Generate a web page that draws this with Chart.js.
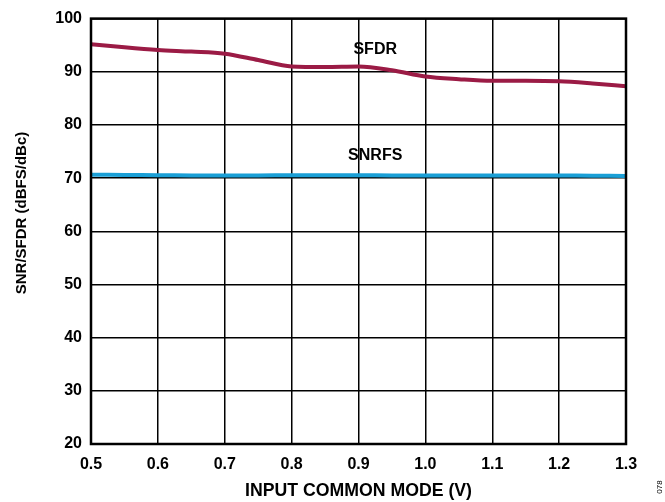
<!DOCTYPE html>
<html>
<head>
<meta charset="utf-8">
<script src="https://cdn.jsdelivr.net/npm/chart.js@4/dist/chart.umd.min.js"></script>
<style>
html,body{margin:0;padding:0;background:#fff;}
#wrap{width:665px;height:502px;position:relative;}
</style>
</head>
<body>
<div id="wrap"><canvas id="c" width="665" height="502"></canvas></div>
<script>
const xValues = [0.5,0.55,0.6,0.65,0.7,0.75,0.8,0.85,0.9,0.95,1.0,1.05,1.1,1.15,1.2,1.25,1.3];
const sfdr    = [95.2,94.6,94.1,93.8,93.4,92.2,91.0,90.9,91.0,90.3,89.1,88.6,88.3,88.3,88.2,87.8,87.3];
const snrfs   = [70.65,70.6,70.55,70.5,70.5,70.5,70.55,70.55,70.55,70.5,70.5,70.5,70.5,70.5,70.5,70.45,70.4];
const xTicks  = [0.5,0.6,0.7,0.8,0.9,1.0,1.1,1.2,1.3];
const yTicks  = [20,30,40,50,60,70,80,90,100];
const seriesLabels = [{text:'SFDR', x:0.925, y:94.2},{text:'SNRFS', x:0.925, y:74.2}];
const yTitle = 'SNR/SFDR (dBFS/dBc)';
const xTitle = 'INPUT COMMON MODE (V)';

const FONT = '"Liberation Sans", Arial, sans-serif';

const annot = {
  id:'annot',
  afterDraw(chart){
    const {ctx, scales:{x,y}} = chart;
    ctx.save();
    ctx.fillStyle = '#000';
    ctx.font = 'bold 16px ' + FONT;
    ctx.textAlign = 'center';
    ctx.textBaseline = 'middle';
    seriesLabels.forEach(l => ctx.fillText(l.text, x.getPixelForValue(l.x), y.getPixelForValue(l.y)));
    ctx.restore();
    // y axis title
    ctx.save();
    ctx.translate(22, 213);
    ctx.rotate(-Math.PI/2);
    ctx.font = 'bold 15px ' + FONT;
    ctx.fillStyle = '#000';
    ctx.textAlign = 'center';
    ctx.textBaseline = 'middle';
    ctx.fillText(yTitle, 0, 0);
    ctx.restore();
    // figure id
    ctx.save();
    ctx.translate(660, 487);
    ctx.rotate(-Math.PI/2);
    ctx.font = '8px ' + FONT;
    ctx.fillStyle = '#000';
    ctx.textAlign = 'center';
    ctx.textBaseline = 'middle';
    ctx.fillText('078', 0, 0);
    ctx.restore();
  }
};

const frame = {
  id:'frame',
  afterDraw(chart){
    const {ctx, chartArea:a} = chart;
    ctx.save();
    ctx.strokeStyle = '#000';
    ctx.lineWidth = 2.5;
    ctx.strokeRect(a.left, a.top, a.right-a.left, a.bottom-a.top);
    ctx.restore();
  }
};

new Chart(document.getElementById('c'), {
  type:'line',
  data:{
    datasets:[
      {label:'SFDR', data:xValues.map((v,i)=>({x:v,y:sfdr[i]})), borderColor:'#9b1b45', borderWidth:4, pointRadius:0, tension:0.4, cubicInterpolationMode:'monotone', fill:false},
      {label:'SNRFS', data:xValues.map((v,i)=>({x:v,y:snrfs[i]})), borderColor:'#1a9fd6', borderWidth:4, pointRadius:0, tension:0.4, fill:false}
    ]
  },
  options:{
    responsive:false,
    animation:false,
    devicePixelRatio:1,
    layout:{padding:{top:17,right:39,left:0,bottom:0}},
    plugins:{legend:{display:false},tooltip:{enabled:false}},
    scales:{
      x:{
        type:'linear', min:0.5, max:1.3,
        afterBuildTicks(s){ s.ticks = xTicks.map(v=>({value:v})); },
        afterFit(s){ s.height = 58; },
        grid:{color:'#000', lineWidth:1.5, drawTicks:false},
        border:{display:false},
        ticks:{color:'#000', font:{family:FONT, size:16, weight:'bold'}, padding:11, maxRotation:0, autoSkip:false,
          callback:(v)=>Number(v).toFixed(1)},
        title:{display:true, text:xTitle, color:'#000', font:{family:FONT, size:17.7, weight:'bold'}, padding:{top:8,bottom:0}}
      },
      y:{
        min:20, max:100,
        afterBuildTicks(s){ s.ticks = yTicks.map(v=>({value:v})); },
        afterFit(s){ s.width = 91; },
        grid:{color:'#000', lineWidth:1.5, drawTicks:false},
        border:{display:false},
        ticks:{color:'#000', font:{family:FONT, size:16, weight:'bold'}, padding:9},
        title:{display:false}
      }
    }
  },
  plugins:[annot, frame]
});
</script>
</body>
</html>
